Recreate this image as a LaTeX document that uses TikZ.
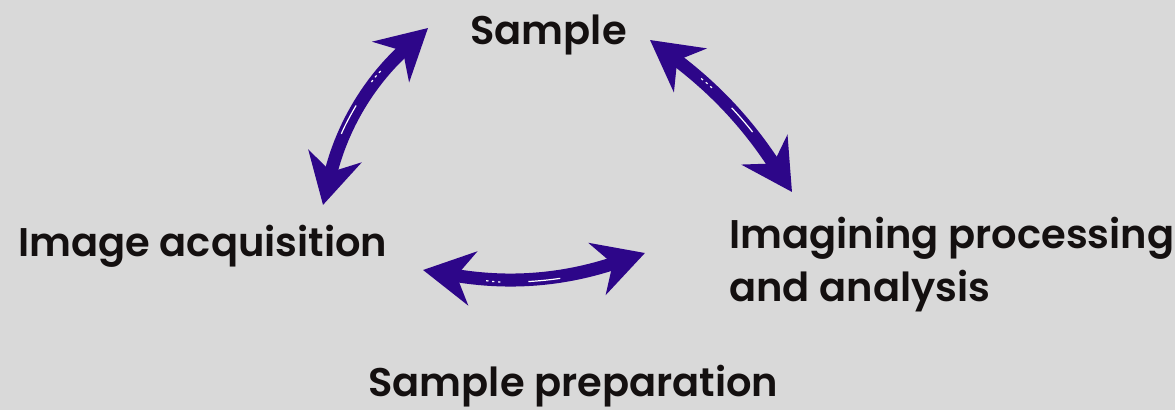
\documentclass[tikz,border=0pt]{standalone}
\usepackage{fontspec}
\newfontfamily\lblfont{Poppins SemiBold}
\usepackage{tikz}
\usetikzlibrary{arrows.meta,calc}
\definecolor{bgc}{RGB}{217,217,217}
\definecolor{arrc}{RGB}{45,6,137}
\definecolor{txtc}{RGB}{20,16,16}

\begin{document}
\begin{tikzpicture}[x=0.5pt, y=-0.5pt,
  lbl/.style={inner sep=0pt, text=txtc, font=\lblfont\fontsize{20}{26.5}\selectfont},
  dblarr/.style={draw=arrc, line width=6.5pt,
    {Stealth[length=25pt,width=27pt,inset=8pt]}-{Stealth[length=25pt,width=27pt,inset=8pt]}},
  hilite/.style={draw=white, line width=0.6pt, shorten <=32pt, shorten >=32pt,
    dash pattern=on 1.2pt off 1.8pt on 1.2pt off 1.8pt on 1.2pt off 14pt on 16pt off 40pt}]

\useasboundingbox (0,0) rectangle (1175,410);
\fill[bgc] (0,0) rectangle (1175,410);

% Nodes
\node[lbl, anchor=base west] (samp) at (470,45) {Sample};
\node[lbl, anchor=base west] (acq) at (18,257) {Image acquisition};
\node[lbl, anchor=north west, align=left] (proc) at (729,217) {Imagining processing\\and analysis};
\node[lbl, anchor=base west] (prep) at (368,397) {Sample preparation};

% Arrow ends
\coordinate (sampL) at ($(samp.base west)+(-42,-17)$);
\coordinate (sampR) at ($(samp.base west)+(180,-5)$);
\coordinate (acqT) at ($(acq.base west)+(305,-52)$);
\coordinate (acqR) at ($(acq.base west)+(405,13)$);
\coordinate (procT) at ($(proc.north west)+(63,-25)$);
\coordinate (procL) at ($(proc.north west)+(-84,36)$);

% Arrows
\draw[dblarr] (sampL) to[bend right=17] (acqT);
\draw[dblarr] (sampR) to[bend left=10] (procT);
\draw[dblarr] (acqR) to[bend right=14] (procL);

% Highlights
\draw[hilite] (sampL) to[bend right=17] (acqT);
\draw[hilite] (sampR) to[bend left=10] (procT);
\draw[hilite] (acqR) to[bend right=14] (procL);

\end{tikzpicture}
\end{document}
